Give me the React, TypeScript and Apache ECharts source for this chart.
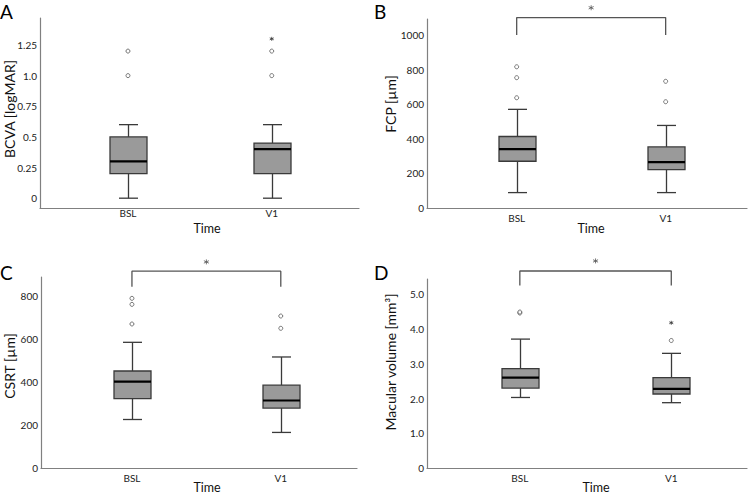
import React, { useEffect, useRef } from "react";
import * as echarts from "echarts";

// ---------- data ----------
const categories = ["BSL", "V1"];

// box stats per category: [min, Q1, median, Q3, max]
const bcvaBoxes = [
  [0, 0.2, 0.3, 0.5, 0.6],
  [0, 0.2, 0.4, 0.45, 0.6],
];
const bcvaOutliers = [[0, 1.2], [0, 1.0], [1, 1.2], [1, 1.0]];
const bcvaExtremes = [[1, 1.3]];

const fcpBoxes = [
  [89, 270, 340, 413, 570],
  [89, 222, 265, 353, 477],
];
const fcpOutliers = [[0, 816], [0, 753], [0, 637], [1, 732], [1, 614]];
const fcpExtremes: number[][] = [];

const csrtBoxes = [
  [225, 322, 401, 450, 583],
  [165, 278, 313, 384, 515],
];
const csrtOutliers = [[0, 787], [0, 759], [0, 668], [1, 705], [1, 648]];
const csrtExtremes: number[][] = [];

const mvBoxes = [
  [2.03, 2.3, 2.6, 2.86, 3.71],
  [1.88, 2.13, 2.28, 2.6, 3.3],
];
const mvOutliers = [[0, 4.46], [0, 4.49], [1, 3.67]];
const mvExtremes = [[1, 4.18]];

// tick values and labels
const bcvaTicks = [0, 0.25, 0.5, 0.75, 1.0, 1.25];
const bcvaTickLabels = ["0", "0.25", "0.5", "0.75", "1.0", "1.25"];
const fcpTicks = [0, 200, 400, 600, 800, 1000];
const fcpTickLabels = ["0", "200", "400", "600", "800", "1000"];
const csrtTicks = [0, 200, 400, 600, 800];
const csrtTickLabels = ["0", "200", "400", "600", "800"];
const mvTicks = [0, 1, 2, 3, 4, 5];
const mvTickLabels = ["0", "1.0", "2.0", "3.0", "4.0", "5.0"];

// significance brackets: [legBottom, top, starY]
const fcpBracket = [1000, 1100, 1157];
const csrtBracket = [841, 913, 956];
const mvBracket = [5.25, 5.67, 5.96];

const panelLetters = ["A", "B", "C", "D"];
const yNames = ["BCVA [logMAR]", "FCP [µm]", "CSRT [µm]", "Macular volume [mm³]"];
const xName = "Time";

// ---------- layout ----------
const FONT = "Lato, 'Open Sans', sans-serif";
const panels = [
  {
    grid: { left: 40, top: 18, width: 319, height: 190 },
    x: [-0.612, 1.607], y: [-0.08, 1.47], labelMargin: 0,
    boxes: bcvaBoxes, outliers: bcvaOutliers, extremes: bcvaExtremes,
    ticks: bcvaTicks, tickLabels: bcvaTickLabels, bracket: null as number[] | null,
    letter: [0, 11], yName: [9, 109], time: [207, 228.5],
  },
  {
    grid: { left: 427, top: 19, width: 320, height: 189 },
    x: [-0.602, 1.546], y: [0, 1092], labelMargin: 5,
    boxes: fcpBoxes, outliers: fcpOutliers, extremes: fcpExtremes,
    ticks: fcpTicks, tickLabels: fcpTickLabels, bracket: fcpBracket,
    letter: [374, 11], yName: [390, 104], time: [591, 228.5],
  },
  {
    grid: { left: 41, top: 277, width: 316, height: 191 },
    x: [-0.611, 1.512], y: [0, 886], labelMargin: 5,
    boxes: csrtBoxes, outliers: csrtOutliers, extremes: csrtExtremes,
    ticks: csrtTicks, tickLabels: csrtTickLabels, bracket: csrtBracket,
    letter: [0, 272], yName: [9, 366], time: [207, 487],
  },
  {
    grid: { left: 427, top: 279, width: 320, height: 189 },
    x: [-0.613, 1.5], y: [0, 5.44], labelMargin: 5,
    boxes: mvBoxes, outliers: mvOutliers, extremes: mvExtremes,
    ticks: mvTicks, tickLabels: mvTickLabels, bracket: mvBracket,
    letter: [374, 272], yName: [390, 362], time: [596, 487],
  },
];

const BOX_W = 37;
const CAP_W = 19;
const EDGE = "#3a3a3a";
const ASTERISK = "path://M5,0L5,10M0.67,2.5L9.33,7.5M0.67,7.5L9.33,2.5";

const renderBox = (params: any, api: any) => {
  const x = api.value(0);
  const pMin = api.coord([x, api.value(1)]);
  const pQ1 = api.coord([x, api.value(2)]);
  const pMed = api.coord([x, api.value(3)]);
  const pQ3 = api.coord([x, api.value(4)]);
  const pMax = api.coord([x, api.value(5)]);
  const cx = Math.round(pMed[0]) + 0.5;
  const hw = BOX_W / 2;
  const cw = CAP_W / 2;
  const ls = { stroke: EDGE, lineWidth: 1.3 };
  return {
    type: "group",
    children: [
      { type: "line", shape: { x1: cx, y1: pMax[1], x2: cx, y2: pQ3[1] }, style: ls },
      { type: "line", shape: { x1: cx, y1: pQ1[1], x2: cx, y2: pMin[1] }, style: ls },
      { type: "line", shape: { x1: cx - cw, y1: pMax[1], x2: cx + cw, y2: pMax[1] }, style: ls },
      { type: "line", shape: { x1: cx - cw, y1: pMin[1], x2: cx + cw, y2: pMin[1] }, style: ls },
      {
        type: "rect",
        shape: { x: cx - hw, y: pQ3[1], width: BOX_W, height: pQ1[1] - pQ3[1] },
        style: { fill: "#9a9a9a", stroke: EDGE, lineWidth: 1.3 },
      },
      {
        type: "line",
        shape: { x1: cx - hw, y1: pMed[1], x2: cx + hw, y2: pMed[1] },
        style: { stroke: "#000", lineWidth: 2.2 },
      },
    ],
  };
};

export default function App() {
  const ref = useRef<HTMLDivElement>(null);

  useEffect(() => {
    if (!ref.current) return;
    const chart = echarts.init(ref.current, undefined, { renderer: "svg" });

    const grid: any[] = [];
    const xAxis: any[] = [];
    const yAxis: any[] = [];
    const series: any[] = [];
    const graphic: any[] = [];

    panels.forEach((p, i) => {
      grid.push({ ...p.grid, containLabel: false });
      xAxis.push({
        type: "value",
        gridIndex: i,
        min: p.x[0],
        max: p.x[1],
        splitLine: { show: false },
        axisTick: { show: false },
        axisLine: { onZero: false, lineStyle: { color: "#808080", width: 1.2 } },
        axisLabel: {
          customValues: [0, 1],
          formatter: (v: number) => categories[Math.round(v)] ?? "",
          margin: p.labelMargin,
          fontSize: 10,
          fontFamily: FONT,
          color: "#222",
        },
      });
      yAxis.push({
        type: "value",
        gridIndex: i,
        min: p.y[0],
        max: p.y[1],
        splitLine: { show: false },
        axisTick: { show: false },
        axisLine: { show: true, onZero: false, lineStyle: { color: "#808080", width: 1.2 } },
        axisLabel: {
          customValues: p.ticks,
          formatter: (v: number) => {
            const k = p.ticks.findIndex((t) => Math.abs(t - v) < 1e-9);
            return k >= 0 ? p.tickLabels[k] : "";
          },
          margin: 3,
          fontSize: 10,
          fontFamily: FONT,
          color: "#222",
        },
      });

      series.push({
        type: "custom",
        xAxisIndex: i,
        yAxisIndex: i,
        renderItem: renderBox,
        encode: { x: 0, y: [1, 2, 3, 4, 5] },
        data: p.boxes.map((b, k) => [k, ...b]),
        z: 2,
      });
      series.push({
        type: "scatter",
        xAxisIndex: i,
        yAxisIndex: i,
        symbol: "circle",
        symbolSize: 4,
        itemStyle: { color: "#fff", borderColor: "#555", borderWidth: 1 },
        data: p.outliers,
        z: 3,
      });
      if (p.extremes.length) {
        series.push({
          type: "scatter",
          xAxisIndex: i,
          yAxisIndex: i,
          symbol: ASTERISK,
          symbolSize: 4,
          itemStyle: { color: "transparent", borderColor: "#333", borderWidth: 1 },
          data: p.extremes,
          z: 3,
        });
      }
      if (p.bracket) {
        const [leg, top, star] = p.bracket;
        series.push({
          type: "line",
          xAxisIndex: i,
          yAxisIndex: i,
          clip: false,
          showSymbol: false,
          symbol: "none",
          lineStyle: { color: "#555", width: 1.3 },
          data: [[0, leg], [0, top], [1, top], [1, leg]],
          z: 3,
        });
        series.push({
          type: "scatter",
          xAxisIndex: i,
          yAxisIndex: i,
          clip: false,
          symbol: ASTERISK,
          symbolSize: 5,
          itemStyle: { color: "transparent", borderColor: "#555", borderWidth: 1 },
          data: [[0.5, star]],
          z: 3,
        });
      }

      graphic.push({
        type: "text",
        x: p.letter[0],
        y: p.letter[1],
        style: {
          text: panelLetters[i],
          font: `19px ${FONT}`,
          fill: "#000",
          textAlign: "left",
          textVerticalAlign: "middle",
        },
      });
      graphic.push({
        type: "text",
        x: p.yName[0],
        y: p.yName[1],
        rotation: Math.PI / 2,
        style: {
          text: yNames[i],
          font: `14px ${FONT}`,
          fill: "#111",
          textAlign: "center",
          textVerticalAlign: "middle",
        },
      });
      graphic.push({
        type: "text",
        x: p.time[0],
        y: p.time[1],
        style: {
          text: xName,
          font: `12.5px ${FONT}`,
          fill: "#111",
          textAlign: "center",
          textVerticalAlign: "middle",
        },
      });
    });

    chart.setOption({
      animation: false,
      backgroundColor: "#fff",
      grid,
      xAxis,
      yAxis,
      series,
      graphic,
    });

    return () => chart.dispose();
  }, []);

  return (
    <div
      ref={ref}
      style={{ position: "absolute", left: 0, top: 0, width: 748, height: 500 }}
    />
  );
}
